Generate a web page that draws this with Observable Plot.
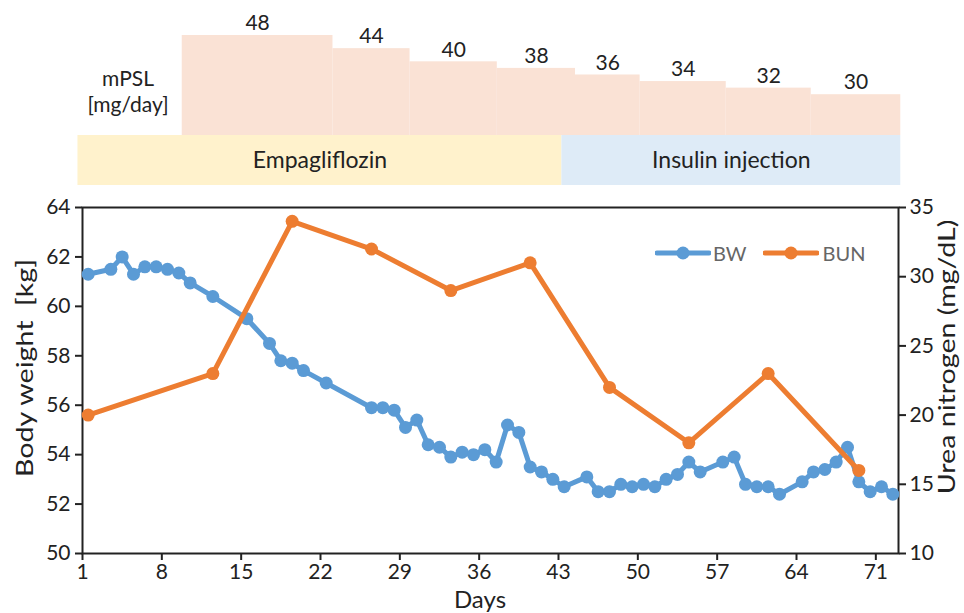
<!DOCTYPE html>
<html><head><meta charset="utf-8">
<script src="https://cdn.jsdelivr.net/npm/d3@7"></script>
<script src="https://cdn.jsdelivr.net/npm/@observablehq/plot@0.6"></script>
<style>
body{margin:0;background:#fff;font-family:Lato,sans-serif;}
#wrap{position:relative;width:964px;height:613px;overflow:hidden;background:#fff;}
#wrap svg.plt{position:absolute;left:0;top:0;background:transparent;}
.lbl{position:absolute;font-family:Lato,sans-serif;color:#222;white-space:nowrap;}
</style></head><body><div id="wrap"></div>
<script>
// ---- data ----
const bwDays = [1,3,4,5,6,7,8,9,10,12,15,17,18,19,20,22,26,27,28,29,30,31,32,33,34,35,36,37,38,39,40,41,42,43,45,46,47,48,49,50,51,52,53,54,55,57,58,59,60,61,62,64,65,66,67,68,69,70,71,72];
const bwValues = [61.3,61.5,62.0,61.3,61.6,61.6,61.5,61.35,60.95,60.4,59.5,58.5,57.8,57.7,57.4,56.9,55.9,55.9,55.8,55.1,55.4,54.4,54.3,53.9,54.1,54.0,54.2,53.7,55.2,54.9,53.5,53.3,53.0,52.7,53.1,52.5,52.5,52.8,52.7,52.8,52.7,53.0,53.2,53.7,53.3,53.7,53.9,52.8,52.7,52.7,52.4,52.9,53.3,53.4,53.7,54.3,52.9,52.5,52.7,52.4];
const bunDays = [1,12,19,26,33,40,47,54,61,69];
const bunValues = [20,23,34,32,29,31,22,18,23,16];
const doseStart = [9.8,23.1,29.9,37.6,44.5,50.2,57.8,65.3];
const doseEnd = [23.1,29.9,37.6,44.5,50.2,57.8,65.3,73.2];
const doseValues = [48,44,40,38,36,34,32,30];
const drugNames = ["Empagliflozin","Insulin injection"];
const drugStart = [0.6,43.3];
const drugEnd = [43.3,73.2];
const xTicks = [1,8,15,22,29,36,43,50,57,64,71];
const bwTicks = [50,52,54,56,58,60,62,64];
const bunTicks = [10,15,20,25,30,35];

// ---- layout ----
const W = 964, H = 613;
const M = {left:82, right:66, top:207, bottom:60};
const xDomain = [1,73];
const BLUE = "#5B9BD5", ORANGE = "#ED7D31";
const font = {fontFamily:"Lato, sans-serif", fontSize:"20px", color:"#222", background:"transparent", overflow:"visible"};

const bw = bwDays.map((d,i)=>({day:d, v:bwValues[i]}));
const bun = bunDays.map((d,i)=>({day:d, v:bunValues[i]}));
const doses = doseValues.map((v,i)=>({v, s:doseStart[i], e:doseEnd[i]}));
const drugs = drugNames.map((n,i)=>({n, s:drugStart[i], e:drugEnd[i]}));
const mid = d => d.day + 0.5;

const wrap = document.getElementById("wrap");
function add(p){ p.classList.add("plt"); wrap.appendChild(p); }

// mPSL steps
add(Plot.plot({
  width:W, height:H, marginLeft:M.left, marginRight:M.right, marginTop:35, marginBottom:H-135,
  style:font,
  x:{domain:xDomain, axis:null},
  y:{domain:[17.6,48], axis:null},
  marks:[
    Plot.rect(doses,{x1:"s", x2:"e", y1:17.6, y2:"v", fill:"#FAE2D5"}),
    Plot.text(doses,{x:d=>(d.s+d.e)/2, y:"v", text:d=>String(d.v), dy:-12, fontSize:21, fill:"#222"})
  ]
}));

// drug bands
add(Plot.plot({
  width:W, height:H, marginLeft:M.left, marginRight:M.right, marginTop:135, marginBottom:H-185,
  style:font,
  x:{domain:xDomain, axis:null},
  y:{domain:[0,1], axis:null},
  marks:[
    Plot.rect(drugs,{x1:"s", x2:"e", y1:0, y2:1, fill:(d,i)=> i===0 ? "#FFF2CC" : "#DEEBF7"}),
    Plot.text(drugs,{x:d=>(d.s+d.e)/2, y:0.5, text:"n", fontSize:23, fill:"#222"})
  ]
}));

// BW (left axis)
add(Plot.plot({
  width:W, height:H, marginLeft:M.left, marginRight:M.right, marginTop:M.top, marginBottom:M.bottom,
  style:font,
  x:{domain:xDomain},
  y:{domain:[50,64]},
  marks:[
    Plot.axisX({ticks:xTicks, tickSize:7, tickPadding:4, strokeWidth:2, stroke:"#222", fontSize:21, label:null}),
    Plot.axisY({anchor:"left", ticks:bwTicks, tickSize:7, tickPadding:5, strokeWidth:2, stroke:"#222", fontSize:21, label:null}),
    Plot.frame({stroke:"#222", strokeWidth:2}),
    Plot.line(bw,{x:mid, y:"v", stroke:BLUE, strokeWidth:5}),
    Plot.dot(bw,{x:mid, y:"v", r:6.5, fill:BLUE})
  ]
}));

// BUN (right axis)
add(Plot.plot({
  width:W, height:H, marginLeft:M.left, marginRight:M.right, marginTop:M.top, marginBottom:M.bottom,
  style:font,
  x:{domain:xDomain, axis:null},
  y:{domain:[10,35]},
  marks:[
    Plot.axisY({anchor:"right", ticks:bunTicks, tickSize:7, tickPadding:4, strokeWidth:2, stroke:"#222", fontSize:21, label:null}),
    Plot.line(bun,{x:mid, y:"v", stroke:ORANGE, strokeWidth:5}),
    Plot.dot(bun,{x:mid, y:"v", r:6.5, fill:ORANGE})
  ]
}));

// text labels
function label(html, css){ const d=document.createElement("div"); d.className="lbl"; d.innerHTML=html; Object.assign(d.style, css); wrap.appendChild(d); return d; }
label("mPSL",{left:"128px", top:"77px", transform:"translate(-50%,-50%)", fontSize:"21px"});
label("[mg/day]",{left:"128px", top:"103px", transform:"translate(-50%,-50%)", fontSize:"21px"});
label("Days",{left:"480px", top:"599px", transform:"translate(-50%,-50%)", fontSize:"24px", lineHeight:"1"});
label("Body weight&nbsp;&nbsp;[kg]",{left:"24px", top:"368px", transform:"translate(-50%,-50%) rotate(-90deg) scale(1.3,1.05)", fontSize:"22px"});
label("Urea nitrogen (mg/dL)",{left:"946px", top:"357px", transform:"translate(-50%,-50%) rotate(-90deg) scale(1.3,1.05)", fontSize:"22px"});

// legend
const legend = label(
  `<svg width="56" height="14" style="vertical-align:middle"><line x1="2" y1="7" x2="54" y2="7" stroke="${BLUE}" stroke-width="5" stroke-linecap="round"/><circle cx="28" cy="7" r="6.5" fill="${BLUE}"/></svg><span style="margin-left:2px">BW</span>` +
  `<svg width="56" height="14" style="vertical-align:middle;margin-left:16px"><line x1="2" y1="7" x2="54" y2="7" stroke="${ORANGE}" stroke-width="5" stroke-linecap="round"/><circle cx="28" cy="7" r="6.5" fill="${ORANGE}"/></svg><span style="margin-left:4px">BUN</span>`,
  {left:"655px", top:"253px", transform:"translate(0,-50%)", fontSize:"20px", color:"#666", display:"flex", alignItems:"center"});
</script></body></html>
